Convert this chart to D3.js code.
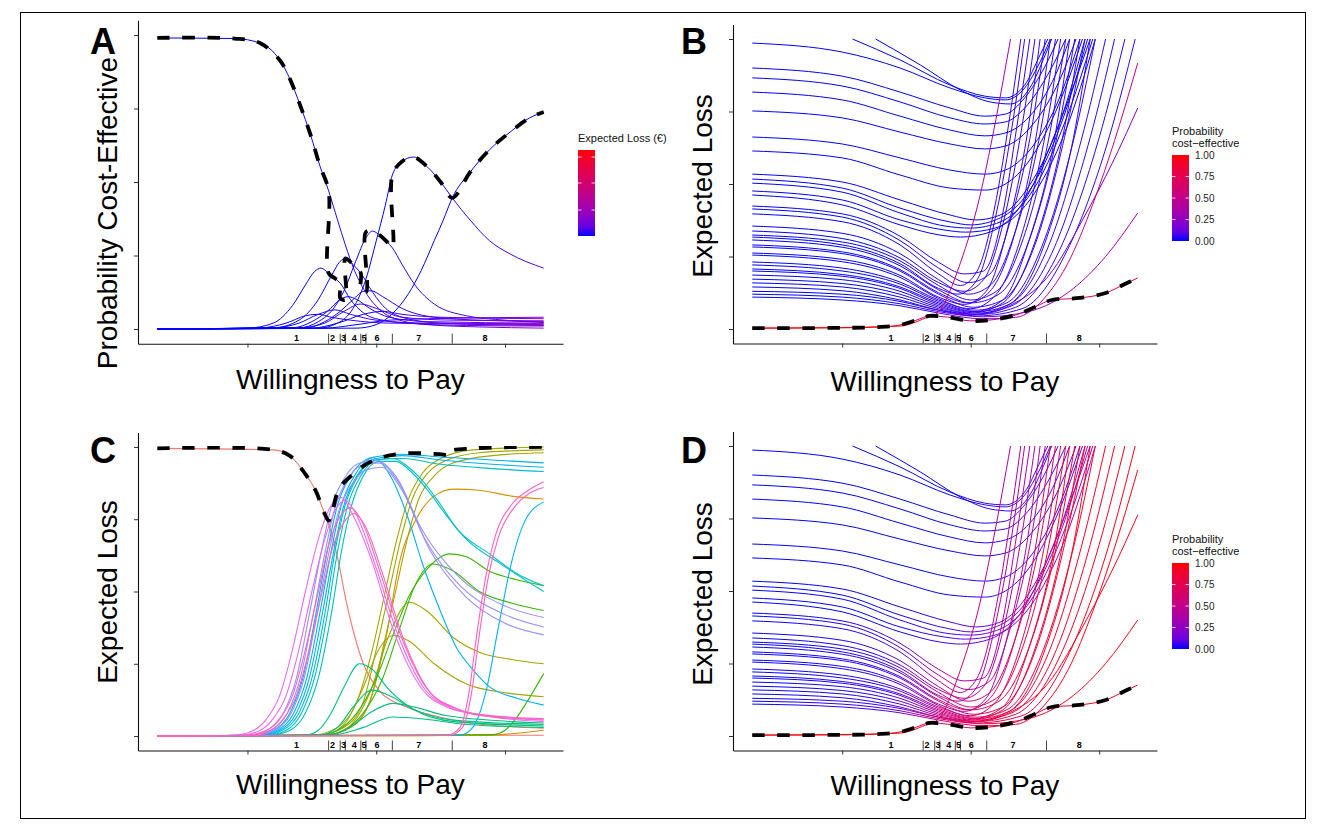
<!DOCTYPE html>
<html>
<head>
<meta charset="utf-8">
<script src="https://cdn.jsdelivr.net/npm/d3@7"></script>
<style>
  body { margin: 0; background: #fff; }
  svg { display: block; }
  text { font-family: "Liberation Sans", Arial, Helvetica, sans-serif; }
</style>
</head>
<body>
<svg id="fig" width="1318" height="831"></svg>
<script>
// ---- data (x = log10 of willingness to pay, y = 0..1) ----
const wtpTicks = [3, 4, 5];
const yTicks = [0, 0.25, 0.5, 0.75, 1];
const segmentBreaks = [3.63, 3.72, 3.76, 3.88, 3.92, 4.125, 4.59];
const segmentLabelPos = [3.38, 3.66, 3.745, 3.83, 3.905, 4.005, 4.33, 4.845];
const segmentLabels = ["1", "2", "3", "4", "5", "6", "7", "8"];
const legendProbLabels = ["1.00", "0.75", "0.50", "0.25", "0.00"];
const legendProbValues = [1, 0.75, 0.5, 0.25, 0];

// panel A: probability cost-effective per strategy
const probCurvesA = [
  [[2.3,0.99],[2.9,0.988],[3.1,0.972],[3.25,0.915],[3.33,0.85],[3.41,0.76],[3.49,0.66],[3.56,0.558],[3.63,0.47],[3.7,0.37],[3.76,0.286],[3.83,0.2],[3.93,0.116],[4.03,0.065],[4.18,0.03],[4.42,0.014],[4.8,0.007],[5.3,0.003]],
  [[2.3,0],[3.0,0.003],[3.2,0.02],[3.35,0.08],[3.45,0.15],[3.52,0.195],[3.57,0.207],[3.63,0.19],[3.68,0.172],[3.72,0.156],[3.8,0.1],[3.9,0.055],[4.05,0.03],[4.3,0.018],[4.7,0.012],[5.3,0.01]],
  [[2.3,0],[3.2,0.004],[3.4,0.03],[3.55,0.1],[3.65,0.18],[3.72,0.23],[3.76,0.24],[3.8,0.228],[3.84,0.21],[3.88,0.19],[3.95,0.14],[4.05,0.08],[4.2,0.04],[4.5,0.02],[5.3,0.012]],
  [[2.3,0],[3.35,0.004],[3.5,0.025],[3.62,0.06],[3.72,0.1],[3.78,0.11],[3.85,0.1],[3.95,0.07],[4.1,0.04],[4.4,0.025],[5.3,0.02]],
  [[2.3,0],[3.45,0.004],[3.6,0.025],[3.72,0.06],[3.82,0.1],[3.9,0.128],[3.96,0.13],[4.05,0.11],[4.2,0.07],[4.45,0.04],[4.8,0.03],[5.3,0.025]],
  [[2.3,0],[3.4,0.004],[3.55,0.025],[3.65,0.06],[3.75,0.13],[3.84,0.23],[3.92,0.31],[3.97,0.333],[4.03,0.318],[4.08,0.298],[4.125,0.276],[4.2,0.22],[4.3,0.15],[4.45,0.085],[4.7,0.045],[5.0,0.03],[5.3,0.022]],
  [[2.3,0],[3.55,0.003],[3.7,0.02],[3.82,0.07],[3.92,0.17],[4.0,0.3],[4.07,0.42],[4.125,0.524],[4.2,0.57],[4.29,0.585],[4.4,0.55],[4.5,0.5],[4.59,0.446],[4.73,0.37],[4.88,0.3],[5.04,0.255],[5.3,0.207]],
  [[2.3,0],[3.85,0.003],[4.0,0.015],[4.12,0.05],[4.25,0.12],[4.35,0.2],[4.45,0.3],[4.52,0.37],[4.59,0.446],[4.73,0.534],[4.88,0.61],[5.04,0.67],[5.19,0.718],[5.3,0.738]],
  [[2.3,0],[3.1,0.004],[3.3,0.02],[3.45,0.045],[3.55,0.05],[3.65,0.04],[3.8,0.03],[4.1,0.02],[5.3,0.015]],
  [[2.3,0],[3.2,0.004],[3.4,0.02],[3.55,0.05],[3.68,0.065],[3.8,0.05],[4.0,0.03],[4.4,0.02],[5.3,0.018]],
  [[2.3,0],[3.4,0.004],[3.6,0.02],[3.75,0.06],[3.88,0.085],[4.0,0.07],[4.2,0.04],[4.6,0.03],[5.3,0.028]],
  [[2.3,0],[3.5,0.003],[3.7,0.02],[3.9,0.05],[4.05,0.06],[4.2,0.05],[4.5,0.04],[5.3,0.035]],
  [[2.3,0],[3.6,0.003],[3.85,0.015],[4.1,0.03],[4.4,0.035],[5.3,0.04]]
];
// expected loss behind each A curve at the probStops (for colour)
const lossA = [
  [0,0,0.03,0.08,0.15,0.25],[0,0,0,0.03,0.08,0.15],[0,0,0,0.03,0.08,0.15],[0,0,0,0.03,0.1,0.18],[0,0,0,0.03,0.1,0.18],
  [0,0,0,0.02,0.06,0.12],[0,0,0,0,0.03,0.08],[0,0,0,0,0,0],[0,0,0.03,0.06,0.15,0.25],[0,0,0.03,0.06,0.15,0.25],
  [0,0,0.03,0.06,0.12,0.22],[0,0,0,0.03,0.1,0.2],[0,0,0,0.03,0.12,0.22]
];
const dashedA = [
  [2.3,0.99],[2.9,0.988],[3.1,0.972],[3.25,0.915],[3.33,0.85],[3.41,0.76],[3.49,0.66],[3.56,0.558],[3.63,0.47],
  [3.63,0.19],[3.68,0.172],[3.72,0.156],
  [3.72,0.105],[3.76,0.1],
  [3.76,0.24],[3.8,0.228],[3.84,0.21],[3.88,0.19],
  [3.88,0.13],[3.92,0.125],
  [3.92,0.33],[3.97,0.333],[4.03,0.318],[4.08,0.298],[4.125,0.276],
  [4.125,0.524],[4.2,0.57],[4.29,0.585],[4.4,0.55],[4.5,0.5],[4.59,0.446],
  [4.73,0.534],[4.88,0.61],[5.04,0.67],[5.19,0.718],[5.3,0.738]
];

// panels B and D: expected loss per strategy (same curves, different colouring)
const lossCurves = [
  [[2.3,0.986],[3.0,0.955],[3.45,0.9],[3.84,0.831],[4.11,0.797],[4.27,0.79],[4.42,0.831],[4.54,0.921],[4.62,1.0]],
  [[2.3,0.9],[3.0,0.872],[3.45,0.817],[3.84,0.762],[4.11,0.734],[4.27,0.741],[4.42,0.797],[4.58,0.907],[4.68,1.0]],
  [[2.3,0.866],[3.0,0.838],[3.45,0.783],[3.84,0.728],[4.11,0.707],[4.27,0.714],[4.42,0.762],[4.62,0.893],[4.74,1.0]],
  [[2.3,0.817],[3.0,0.79],[3.45,0.734],[3.84,0.686],[4.11,0.666],[4.27,0.676],[4.46,0.734],[4.66,0.876],[4.77,1.0]],
  [[2.3,0.752],[3.0,0.728],[3.45,0.679],[3.84,0.638],[4.11,0.621],[4.27,0.631],[4.46,0.693],[4.7,0.866],[4.82,1.0]],
  [[2.3,0.662],[3.0,0.638],[3.45,0.59],[3.84,0.548],[4.11,0.534],[4.27,0.548],[4.46,0.617],[4.7,0.807],[4.85,1.0]],
  [[2.3,0.614],[3.0,0.59],[3.45,0.531],[3.84,0.486],[4.11,0.479],[4.27,0.5],[4.46,0.583],[4.7,0.79],[4.87,1.0]],
  [[3.08,1.0],[3.45,0.928],[3.84,0.841],[4.11,0.803],[4.27,0.797],[4.42,0.841],[4.54,0.945],[4.6,1.0]],
  [[3.26,1.0],[3.61,0.91],[3.92,0.824],[4.15,0.783],[4.31,0.776],[4.46,0.831],[4.58,0.945],[4.63,1.0]],
  [[2.3,0.534],[3.0,0.507],[3.45,0.445],[3.84,0.393],[4.04,0.376],[4.23,0.393],[4.46,0.497],[4.7,0.721],[4.89,1.0]],
  [[2.3,0.517],[3.0,0.486],[3.45,0.417],[3.84,0.369],[4.0,0.359],[4.23,0.383],[4.46,0.479],[4.7,0.703],[4.91,1.0]],
  [[2.3,0.503],[3.0,0.472],[3.45,0.4],[3.8,0.355],[4.0,0.348],[4.23,0.369],[4.46,0.462],[4.74,0.721],[4.95,1.0]],
  [[2.3,0.476],[3.0,0.445],[3.45,0.376],[3.8,0.341],[3.96,0.334],[4.19,0.348],[4.46,0.445],[4.74,0.686],[4.97,1.0]],
  [[2.3,0.462],[3.0,0.428],[3.45,0.359],[3.76,0.324],[3.92,0.317],[4.15,0.334],[4.42,0.445],[4.7,0.721],[4.93,1.0]],
  [[2.3,0.424],[3.0,0.397],[3.45,0.32],[3.75,0.23],[3.95,0.19],[4.1,0.2],[4.25,0.4],[4.36,0.7],[4.46,1.0]],
  [[2.3,0.414],[3.0,0.386],[3.45,0.305],[3.75,0.21],[3.98,0.16],[4.15,0.19],[4.3,0.36],[4.47,0.68],[4.58,1.0]],
  [[2.3,0.397],[3.0,0.37],[3.45,0.29],[3.75,0.19],[3.92,0.15],[4.05,0.2],[4.2,0.45],[4.3,0.72],[4.39,1.0]],
  [[2.3,0.355],[3.0,0.33],[3.45,0.26],[3.75,0.17],[3.98,0.12],[4.15,0.15],[4.35,0.34],[4.53,0.65],[4.66,1.0]],
  [[2.3,0.338],[3.0,0.312],[3.45,0.245],[3.75,0.16],[3.95,0.13],[4.1,0.17],[4.25,0.36],[4.4,0.7],[4.5,1.0]],
  [[2.3,0.324],[3.0,0.3],[3.45,0.235],[3.75,0.15],[4.0,0.1],[4.2,0.13],[4.4,0.3],[4.6,0.64],[4.74,1.0]],
  [[2.3,0.317],[3.0,0.29],[3.45,0.225],[3.75,0.14],[3.9,0.12],[4.05,0.17],[4.2,0.4],[4.33,0.72],[4.42,1.0]],
  [[2.3,0.307],[3.0,0.282],[3.45,0.218],[3.75,0.135],[4.0,0.09],[4.22,0.12],[4.45,0.3],[4.67,0.66],[4.81,1.0]],
  [[2.3,0.29],[3.0,0.266],[3.45,0.205],[3.75,0.125],[3.98,0.09],[4.15,0.13],[4.35,0.34],[4.5,0.64],[4.62,1.0]],
  [[2.3,0.283],[3.0,0.26],[3.45,0.2],[3.75,0.12],[4.02,0.075],[4.25,0.1],[4.5,0.29],[4.73,0.66],[4.89,1.0]],
  [[2.3,0.262],[3.0,0.24],[3.45,0.185],[3.75,0.11],[3.95,0.085],[4.12,0.13],[4.3,0.37],[4.45,0.7],[4.54,1.0]],
  [[2.3,0.255],[3.0,0.232],[3.45,0.178],[3.75,0.105],[4.03,0.065],[4.28,0.09],[4.55,0.28],[4.8,0.65],[4.97,1.0]],
  [[2.3,0.231],[3.0,0.21],[3.45,0.162],[3.75,0.1],[4.0,0.07],[4.2,0.12],[4.4,0.33],[4.58,0.67],[4.7,1.0]],
  [[2.3,0.221],[3.0,0.2],[3.45,0.155],[3.75,0.095],[4.05,0.06],[4.3,0.085],[4.6,0.28],[4.86,0.65],[5.05,1.0]],
  [[2.3,0.207],[3.0,0.188],[3.45,0.145],[3.75,0.09],[4.02,0.06],[4.25,0.1],[4.45,0.3],[4.65,0.65],[4.77,1.0]],
  [[2.3,0.2],[3.0,0.182],[3.45,0.14],[3.75,0.085],[4.05,0.055],[4.32,0.08],[4.65,0.28],[4.93,0.66],[5.12,1.0]],
  [[2.3,0.186],[3.0,0.17],[3.45,0.13],[3.75,0.08],[4.0,0.055],[4.25,0.09],[4.5,0.3],[4.72,0.67],[4.85,1.0]],
  [[2.3,0.172],[3.0,0.157],[3.45,0.12],[3.75,0.075],[4.05,0.05],[4.35,0.075],[4.7,0.28],[5.0,0.66],[5.2,1.0]],
  [[2.3,0.159],[3.0,0.145],[3.45,0.11],[3.75,0.07],[4.0,0.05],[4.3,0.085],[4.58,0.3],[4.8,0.66],[4.93,1.0]],
  [[2.3,0.145],[3.0,0.132],[3.45,0.1],[3.75,0.065],[4.05,0.045],[4.4,0.07],[4.75,0.27],[5.07,0.65],[5.28,1.0]],
  [[2.3,0.13],[3.0,0.12],[3.45,0.095],[3.75,0.065],[4.05,0.05],[4.3,0.08],[4.6,0.18],[4.9,0.4],[5.1,0.57],[5.3,0.762]],
  [[2.3,0.12],[3.0,0.11],[3.45,0.087],[3.75,0.06],[4.1,0.042],[4.45,0.06],[4.8,0.14],[5.05,0.25],[5.3,0.4]],
  [[2.3,0.11],[3.0,0.1],[3.45,0.08],[3.75,0.055],[4.1,0.035],[4.35,0.04],[4.6,0.12],[4.76,0.23],[4.95,0.43],[5.12,0.65],[5.3,0.917]],
  [[2.3,0.003],[3.0,0.005],[3.45,0.01],[3.65,0.038],[3.74,0.055],[3.92,0.228],[4.07,0.455],[4.18,0.686],[4.31,1.0]]
];
const probStops = [2.3, 3.3, 3.8, 4.2, 4.8, 5.3];
const lossProbB = [
  [0,0,0,0,0,0],[0,0,0,0,0,0],[0,0,0,0,0,0],[0,0,0,0,0,0],[0,0,0,0,0,0],[0,0,0,0,0,0],[0,0,0,0,0,0],[0,0,0,0,0,0],[0,0,0,0,0,0],
  [0,0,0,0,0,0],[0,0,0,0,0,0],[0,0,0,0,0,0],[0,0,0,0,0,0],[0,0,0,0,0,0],
  [0,0,0.03,0.03,0.03,0.03],[0,0,0.03,0.03,0.03,0.03],[0,0,0.03,0.03,0.03,0.03],[0,0,0.03,0.03,0.03,0.03],[0,0,0.03,0.03,0.03,0.03],
  [0,0,0.03,0.03,0.03,0.03],[0,0,0.03,0.03,0.03,0.03],[0,0,0.03,0.03,0.03,0.03],[0,0,0.03,0.03,0.03,0.03],[0,0,0.03,0.03,0.03,0.03],
  [0,0,0.03,0.03,0.03,0.03],[0,0,0.03,0.03,0.03,0.03],[0,0,0.03,0.03,0.03,0.03],[0,0,0.03,0.03,0.03,0.03],[0,0,0.03,0.03,0.03,0.03],
  [0,0,0.03,0.03,0.03,0.03],[0,0,0.03,0.03,0.03,0.03],[0,0,0.03,0.03,0.03,0.03],[0,0,0.03,0.03,0.03,0.03],[0,0,0.03,0.03,0.03,0.03],
  [0,0,0.05,0.1,0.15,0.2],[0,0,0.05,0.15,0.3,0.35],[0,0,0.1,0.35,0.55,0.6],[1,1,0.6,0.3,0.25,0.25]
];
const lossProbD = [
  [0,0,0,0.03,0.08,0.08],[0,0,0,0.03,0.08,0.08],[0,0,0,0.03,0.08,0.08],[0,0,0,0.03,0.08,0.08],[0,0,0,0.03,0.08,0.08],[0,0,0,0.03,0.08,0.08],[0,0,0,0.03,0.08,0.08],[0,0,0,0.03,0.08,0.08],[0,0,0,0.03,0.08,0.08],
  [0,0,0.05,0.15,0.35,0.35],[0,0,0.05,0.15,0.35,0.35],[0,0,0.05,0.15,0.35,0.35],[0,0,0.05,0.15,0.35,0.35],[0,0,0.05,0.15,0.35,0.35],
  [0,0.02,0.45,0.4,0.4,0.4],[0,0.02,0.45,0.4,0.4,0.4],[0,0.02,0.45,0.4,0.4,0.4],[0,0.02,0.5,0.6,0.7,0.7],[0,0.02,0.45,0.4,0.4,0.4],
  [0,0.02,0.55,0.75,0.92,0.95],[0,0.02,0.45,0.4,0.4,0.4],[0,0.02,0.55,0.75,0.92,0.95],[0,0.02,0.5,0.6,0.7,0.7],[0,0.02,0.55,0.75,0.92,0.95],
  [0,0.02,0.45,0.4,0.4,0.4],[0,0.02,0.55,0.75,0.92,0.95],[0,0.02,0.5,0.6,0.7,0.7],[0,0.02,0.55,0.75,0.92,0.95],[0,0.02,0.55,0.75,0.92,0.95],
  [0,0.02,0.55,0.75,0.92,0.95],[0,0.02,0.55,0.75,0.92,0.95],[0,0.02,0.55,0.75,0.92,0.95],[0,0.02,0.55,0.75,0.92,0.95],[0,0.02,0.55,0.75,0.92,0.95],
  [0,0.05,0.6,0.85,0.95,0.95],[0,0.05,0.6,0.85,0.95,0.95],[0,0.05,0.6,0.85,0.95,0.95],[1,1,0.7,0.4,0.35,0.35]
];
const envelopeBD = [[2.3,0.003],[3.0,0.004],[3.3,0.007],[3.45,0.014],[3.58,0.031],[3.68,0.045],[3.82,0.041],[4.0,0.028],[4.15,0.031],[4.35,0.048],[4.5,0.076],[4.63,0.1],[4.85,0.107],[5.05,0.124],[5.2,0.155],[5.3,0.176]];
const envProbB = [1, 1, 0.55, 0.45, 0.7, 0.85];
const envProbD = [1, 1, 0.8, 0.7, 0.9, 0.95];

// panel C: curves coloured by group
const hueC = ["#F8766D","#D89000","#A3A500","#39B600","#00BF7D","#00BFC4","#00B0F6","#9590FF","#E76BF3","#FF62BC"];
const groupC = [0, 0, 1, 1, 2, 2, 2, 2, 2, 3, 3, 3, 4, 4, 4, 4, 5, 5, 5, 6, 6, 6, 6, 7, 7, 7, 8, 8, 9, 9, 9, 9];
const curvesC = [
  [[2.3,0.995],[3.2,0.99],[3.33,0.969],[3.45,0.906],[3.53,0.848],[3.6,0.768],[3.66,0.69],[3.71,0.595],[3.76,0.48],[3.82,0.366],[3.9,0.25],[4.02,0.159],[4.23,0.101],[4.49,0.066],[4.75,0.044],[5.3,0.027]],
  [[2.3,0],[4.0,0.001],[5.3,0.003]],
  [[2.3,0],[3.6,0.003],[3.8,0.03],[3.95,0.12],[4.08,0.35],[4.18,0.6],[4.31,0.75],[4.45,0.83],[4.6,0.854],[4.8,0.85],[5.05,0.83],[5.3,0.82]],
  [[2.3,0],[4.8,0.002],[5.05,0.008],[5.3,0.02]],
  [[2.3,0],[3.5,0.003],[3.7,0.03],[3.85,0.12],[3.97,0.3],[4.07,0.5],[4.16,0.68],[4.25,0.82],[4.36,0.91],[4.5,0.96],[4.75,0.99],[5.3,1.0]],
  [[2.3,0],[3.55,0.003],[3.75,0.03],[3.9,0.12],[4.0,0.3],[4.1,0.5],[4.19,0.68],[4.28,0.82],[4.4,0.91],[4.55,0.955],[4.8,0.98],[5.3,0.99]],
  [[2.3,0],[3.6,0.003],[3.8,0.03],[3.95,0.12],[4.05,0.3],[4.15,0.5],[4.24,0.68],[4.33,0.82],[4.45,0.9],[4.6,0.945],[4.9,0.97],[5.3,0.98]],
  [[2.3,0],[3.6,0.003],[3.78,0.03],[3.95,0.15],[4.1,0.35],[4.26,0.463],[4.4,0.43],[4.6,0.34],[4.8,0.29],[5.05,0.265],[5.3,0.25]],
  [[2.3,0],[3.58,0.003],[3.75,0.04],[3.9,0.17],[4.02,0.3],[4.13,0.348],[4.25,0.33],[4.45,0.25],[4.7,0.18],[5.0,0.15],[5.3,0.136]],
  [[2.3,0],[3.55,0.003],[3.7,0.02],[3.85,0.08],[4.0,0.2],[4.13,0.35],[4.25,0.48],[4.4,0.58],[4.57,0.63],[4.7,0.62],[4.88,0.57],[5.1,0.54],[5.3,0.52]],
  [[2.3,0],[3.6,0.003],[3.75,0.02],[3.9,0.08],[4.05,0.2],[4.18,0.37],[4.3,0.52],[4.44,0.595],[4.6,0.57],[4.8,0.5],[5.05,0.46],[5.3,0.434]],
  [[2.3,0],[4.9,0.005],[5.0,0.02],[5.1,0.07],[5.2,0.14],[5.3,0.216]],
  [[2.3,0],[3.45,0.003],[3.55,0.02],[3.65,0.08],[3.75,0.17],[3.87,0.25],[3.97,0.23],[4.1,0.16],[4.3,0.09],[4.6,0.05],[5.3,0.035]],
  [[2.3,0],[3.55,0.003],[3.7,0.03],[3.82,0.1],[3.97,0.159],[4.1,0.14],[4.3,0.09],[4.6,0.055],[5.3,0.04]],
  [[2.3,0],[3.6,0.003],[3.8,0.03],[3.95,0.08],[4.13,0.113],[4.3,0.1],[4.55,0.07],[5.3,0.045]],
  [[2.3,0],[3.65,0.003],[3.9,0.03],[4.13,0.066],[4.35,0.06],[4.7,0.04],[5.3,0.03]],
  [[2.3,0],[3.15,0.003],[3.3,0.02],[3.42,0.08],[3.52,0.2],[3.62,0.42],[3.7,0.64],[3.78,0.8],[3.88,0.9],[4.0,0.955],[4.13,0.96],[4.25,0.93],[4.36,0.883],[4.5,0.8],[4.62,0.72],[4.88,0.63],[5.1,0.56],[5.3,0.52]],
  [[2.3,0],[3.18,0.003],[3.33,0.02],[3.45,0.08],[3.55,0.2],[3.65,0.42],[3.73,0.64],[3.81,0.8],[3.9,0.9],[4.02,0.95],[4.15,0.95],[4.28,0.91],[4.4,0.85],[4.55,0.76],[4.7,0.68],[4.95,0.6],[5.3,0.5]],
  [[2.3,0],[3.12,0.003],[3.27,0.02],[3.4,0.08],[3.5,0.2],[3.6,0.42],[3.68,0.64],[3.76,0.8],[3.86,0.9],[4.0,0.955],[4.2,0.96],[4.5,0.94],[4.9,0.925],[5.3,0.915]],
  [[2.3,0],[3.05,0.003],[3.2,0.02],[3.33,0.08],[3.43,0.2],[3.53,0.42],[3.62,0.64],[3.7,0.8],[3.8,0.9],[3.9,0.95],[3.97,0.963],[4.05,0.94],[4.13,0.883],[4.25,0.75],[4.36,0.595],[4.5,0.43],[4.62,0.308],[4.75,0.23],[4.88,0.17],[5.1,0.13],[5.3,0.107]],
  [[2.3,0],[3.1,0.003],[3.25,0.02],[3.38,0.08],[3.48,0.2],[3.58,0.42],[3.67,0.64],[3.75,0.8],[3.85,0.9],[4.0,0.96],[4.2,0.97],[4.5,0.955],[4.9,0.94],[5.3,0.93]],
  [[2.3,0],[3.08,0.003],[3.23,0.02],[3.36,0.08],[3.46,0.2],[3.56,0.42],[3.65,0.64],[3.73,0.8],[3.83,0.9],[3.98,0.965],[4.2,0.975],[4.5,0.965],[4.9,0.955],[5.3,0.945]],
  [[2.3,0],[4.65,0.003],[4.75,0.03],[4.85,0.15],[4.95,0.38],[5.05,0.6],[5.15,0.74],[5.3,0.81]],
  [[2.3,0],[3.0,0.003],[3.15,0.02],[3.28,0.08],[3.38,0.2],[3.48,0.42],[3.57,0.63],[3.65,0.79],[3.75,0.89],[3.85,0.94],[4.0,0.955],[4.15,0.9],[4.36,0.71],[4.62,0.56],[5.0,0.45],[5.3,0.41]],
  [[2.3,0],[3.03,0.003],[3.18,0.02],[3.31,0.08],[3.41,0.2],[3.51,0.42],[3.6,0.63],[3.68,0.79],[3.78,0.89],[3.88,0.935],[4.02,0.945],[4.17,0.88],[4.38,0.68],[4.65,0.52],[5.0,0.42],[5.3,0.377]],
  [[2.3,0],[3.06,0.003],[3.21,0.02],[3.34,0.08],[3.44,0.2],[3.54,0.42],[3.63,0.63],[3.71,0.78],[3.81,0.87],[3.92,0.92],[4.04,0.93],[4.2,0.85],[4.42,0.64],[4.7,0.48],[5.0,0.39],[5.3,0.35]],
  [[2.3,0],[2.9,0.003],[3.05,0.02],[3.15,0.06],[3.25,0.14],[3.35,0.3],[3.45,0.5],[3.55,0.68],[3.64,0.79],[3.73,0.825],[3.8,0.78],[3.97,0.6],[4.13,0.37],[4.36,0.16],[4.55,0.1],[4.75,0.078],[5.3,0.055]],
  [[2.3,0],[2.95,0.003],[3.1,0.02],[3.2,0.06],[3.3,0.14],[3.4,0.3],[3.5,0.5],[3.6,0.68],[3.68,0.78],[3.76,0.815],[3.84,0.77],[4.0,0.58],[4.16,0.36],[4.38,0.16],[4.57,0.1],[4.78,0.075],[5.3,0.05]],
  [[2.3,0],[3.0,0.003],[3.15,0.02],[3.25,0.06],[3.35,0.14],[3.45,0.3],[3.55,0.5],[3.63,0.66],[3.72,0.76],[3.8,0.79],[3.88,0.75],[4.02,0.58],[4.18,0.36],[4.4,0.16],[4.6,0.1],[4.8,0.075],[5.3,0.06]],
  [[2.3,0],[3.03,0.003],[3.18,0.02],[3.28,0.06],[3.38,0.14],[3.48,0.3],[3.58,0.5],[3.66,0.65],[3.75,0.74],[3.83,0.77],[3.91,0.73],[4.05,0.56],[4.2,0.35],[4.42,0.15],[4.62,0.095],[4.82,0.07],[5.3,0.058]],
  [[2.3,0],[4.55,0.003],[4.65,0.03],[4.72,0.15],[4.78,0.35],[4.85,0.55],[4.93,0.7],[5.05,0.8],[5.18,0.85],[5.3,0.88]],
  [[2.3,0],[4.57,0.003],[4.67,0.03],[4.74,0.15],[4.8,0.35],[4.87,0.55],[4.95,0.69],[5.07,0.79],[5.19,0.84],[5.3,0.86]]
];
const dashedC = [[2.3,0.995],[3.2,0.99],[3.33,0.969],[3.45,0.906],[3.53,0.848],[3.6,0.768],[3.63,0.745],[3.66,0.779],[3.71,0.854],[3.82,0.906],[3.92,0.94],[4.05,0.965],[4.23,0.978],[4.49,0.975],[4.58,0.972],[4.58,0.985],[4.75,0.995],[5.0,0.999],[5.3,1.0]];

// ---- drawing ----
const svg = d3.select("#fig");
const lossColour = d3.interpolateLab("#0000FF", "#FF0000");
const defs = svg.append("defs");

// outer frame
svg.append("rect")
  .attr("x", 20.5).attr("y", 12.5).attr("width", 1285).attr("height", 806)
  .attr("fill", "none").attr("stroke", "#000").attr("stroke-width", 1);

function makePanel(cfg) {
  const x = d3.scaleLinear().domain([2.15, 5.45]).range([cfg.left, cfg.right]);
  const y = d3.scaleLinear().domain([-0.05, 1.05]).range([cfg.bottom, cfg.top]);
  const g = svg.append("g");

  const xa = g.append("g").attr("transform", `translate(0,${cfg.bottom})`)
    .call(d3.axisBottom(x).tickValues(wtpTicks).tickFormat("").tickSize(4).tickSizeOuter(0));
  const ya = g.append("g").attr("transform", `translate(${cfg.left},0)`)
    .call(d3.axisLeft(y).tickValues(yTicks).tickFormat("").tickSize(4).tickSizeOuter(0));
  [xa, ya].forEach(a => {
    a.select(".domain").attr("stroke", "#111").attr("stroke-width", 1.1);
    a.selectAll(".tick line").attr("stroke", "#333").attr("stroke-width", 1);
  });

  // strategy segments along the x axis
  segmentBreaks.forEach(b => {
    g.append("line")
      .attr("x1", x(b)).attr("x2", x(b))
      .attr("y1", cfg.bottom - 10).attr("y2", cfg.bottom)
      .attr("stroke", "#4a4040").attr("stroke-width", 1);
  });
  segmentLabels.forEach((t, i) => {
    g.append("text")
      .attr("x", x(segmentLabelPos[i])).attr("y", cfg.bottom - 3)
      .attr("text-anchor", "middle")
      .style("font-size", "9px").style("font-weight", "bold")
      .text(t);
  });

  // axis titles and panel letter
  g.append("text")
    .attr("x", (cfg.left + cfg.right) / 2).attr("y", cfg.xlabY)
    .attr("text-anchor", "middle").style("font-size", "28px")
    .text("Willingness to Pay");
  g.append("text")
    .attr("transform", `translate(${cfg.ylabX},${cfg.ylabMid}) rotate(-90)`)
    .attr("text-anchor", "middle").style("font-size", "28px")
    .text(cfg.ylab);
  g.append("text")
    .attr("x", cfg.letterX).attr("y", cfg.letterY)
    .style("font-size", "36px").style("font-weight", "bold")
    .text(cfg.letter);

  const clipId = "clip" + cfg.letter;
  defs.append("clipPath").attr("id", clipId)
    .append("rect")
    .attr("x", cfg.left).attr("y", y(1) - 1)
    .attr("width", cfg.right - cfg.left).attr("height", cfg.bottom - y(1) + 1);

  const line = d3.line().x(d => x(d[0])).y(d => y(d[1])).curve(d3.curveMonotoneX);
  const dashLine = d3.line().x(d => x(d[0])).y(d => y(d[1])).curve(d3.curveCatmullRom.alpha(0.5));
  const plot = g.append("g").attr("clip-path", `url(#${clipId})`);
  return { g, x, y, line, dashLine, plot };
}

function gradientFor(id, x, vals) {
  const grad = defs.append("linearGradient").attr("id", id)
    .attr("gradientUnits", "userSpaceOnUse")
    .attr("x1", x(probStops[0])).attr("x2", x(probStops[probStops.length - 1]))
    .attr("y1", 0).attr("y2", 0);
  probStops.forEach((s, i) => {
    grad.append("stop")
      .attr("offset", (s - probStops[0]) / (probStops[probStops.length - 1] - probStops[0]))
      .attr("stop-color", lossColour(vals[i]));
  });
  return `url(#${id})`;
}

function dashed(p, data) {
  p.plot.append("path").attr("d", p.dashLine(data))
    .attr("fill", "none").attr("stroke", "#000").attr("stroke-width", 3.8)
    .attr("stroke-dasharray", "12.5,12.5");
}

function colourBar(x0, y0, h, id, title) {
  const grad = defs.append("linearGradient").attr("id", id)
    .attr("x1", 0).attr("x2", 0).attr("y1", 1).attr("y2", 0);
  d3.range(0, 1.0001, 0.1).forEach(t => {
    grad.append("stop").attr("offset", t).attr("stop-color", lossColour(t));
  });
  const lg = svg.append("g");
  title.forEach((t, i) => {
    lg.append("text").attr("x", x0).attr("y", y0 - 8 - (title.length - 1 - i) * 12.5)
      .style("font-size", "11px").attr("fill", "#111").text(t);
  });
  lg.append("rect").attr("x", x0).attr("y", y0).attr("width", 17).attr("height", h)
    .attr("fill", `url(#${id})`);
  return lg;
}

// ---- panel A ----
const pA = makePanel({ letter: "A", left: 138, right: 563, top: 20.3, bottom: 343.7,
  xlabY: 389, ylabX: 117, ylabMid: 213, ylab: "Probability Cost-Effective", letterX: 90, letterY: 54 });
probCurvesA.forEach((c, i) => {
  pA.plot.append("path").attr("d", pA.line(c))
    .attr("fill", "none").attr("stroke", gradientFor(`gA${i}`, pA.x, lossA[i])).attr("stroke-width", 1);
});
dashed(pA, dashedA);
const lgA = colourBar(578, 150, 86, "barA", ["Expected Loss (€)"]);
[157, 183, 210].forEach(ty => {
  lgA.append("line").attr("x1", 578).attr("x2", 581.5).attr("y1", ty).attr("y2", ty).attr("stroke", "#fff").attr("stroke-width", 0.8);
  lgA.append("line").attr("x1", 591.5).attr("x2", 595).attr("y1", ty).attr("y2", ty).attr("stroke", "#fff").attr("stroke-width", 0.8);
});

// ---- panels B and D ----
function lossPanel(cfg, probs, envProb, barY) {
  const p = makePanel(cfg);
  lossCurves.forEach((c, i) => {
    p.plot.append("path").attr("d", p.line(c))
      .attr("fill", "none")
      .attr("stroke", gradientFor(`g${cfg.letter}${i}`, p.x, probs[i]))
      .attr("stroke-width", 1);
  });
  p.plot.append("path").attr("d", p.line(envelopeBD))
    .attr("fill", "none").attr("stroke", gradientFor(`env${cfg.letter}`, p.x, envProb))
    .attr("stroke-width", 1);
  dashed(p, envelopeBD);

  const lg = colourBar(1172, barY, 86, "bar" + cfg.letter, ["Probability", "cost\u2212effective"]);
  const ly = d3.scaleLinear().domain([0, 1]).range([barY + 86, barY]);
  legendProbValues.forEach((v, i) => {
    if (v > 0 && v < 1) {
      lg.append("line").attr("x1", 1172).attr("x2", 1175.5).attr("y1", ly(v)).attr("y2", ly(v)).attr("stroke", "#fff").attr("stroke-width", 0.8);
      lg.append("line").attr("x1", 1185.5).attr("x2", 1189).attr("y1", ly(v)).attr("y2", ly(v)).attr("stroke", "#fff").attr("stroke-width", 0.8);
    }
    lg.append("text").attr("x", 1195).attr("y", ly(v)).attr("dy", "0.35em")
      .style("font-size", "10px").attr("fill", "#222").text(legendProbLabels[i]);
  });
}
lossPanel({ letter: "B", left: 733, right: 1157, top: 24.5, bottom: 343.5,
  xlabY: 391, ylabX: 712, ylabMid: 186, ylab: "Expected Loss", letterX: 681, letterY: 54 }, lossProbB, envProbB, 155);
lossPanel({ letter: "D", left: 733, right: 1157, top: 431.5, bottom: 750.5,
  xlabY: 795, ylabX: 712, ylabMid: 594, ylab: "Expected Loss", letterX: 681, letterY: 463 }, lossProbD, envProbD, 563);

// ---- panel C ----
const pC = makePanel({ letter: "C", left: 138, right: 563, top: 432.5, bottom: 750.5,
  xlabY: 794, ylabX: 117, ylabMid: 592, ylab: "Expected Loss", letterX: 90, letterY: 463 });
curvesC.forEach((c, i) => {
  pC.plot.append("path").attr("d", pC.line(c))
    .attr("fill", "none").attr("stroke", hueC[groupC[i]]).attr("stroke-width", 1.1);
});
dashed(pC, dashedC);
</script>
</body>
</html>
